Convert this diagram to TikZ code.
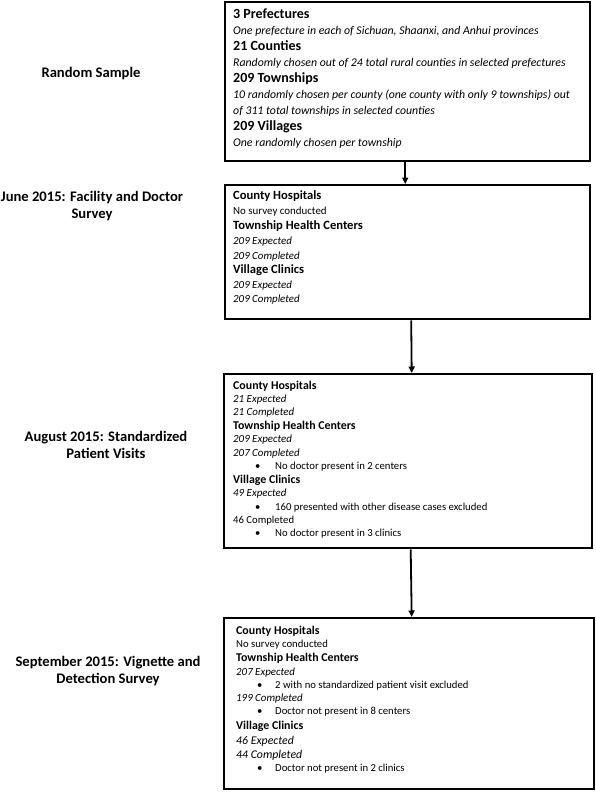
\documentclass[tikz,border=0pt]{standalone}
\usepackage{fontspec}
\setmainfont{Carlito}
\usetikzlibrary{arrows.meta}
\begin{document}
\begin{tikzpicture}[x=1pt,y=-1pt,
  box/.style={draw=black, line width=2.4pt, rectangle, inner sep=0pt, anchor=north west},
  arr/.style={line width=1.8pt, -{Triangle[length=6.5pt,width=6pt]}},
  txt/.style={anchor=west, inner sep=0pt, text height=0.72em, text depth=0.22em},
  hdA/.style={txt, font=\fontsize{14}{16}\selectfont\bfseries},
  itA/.style={txt, font=\fontsize{11.8}{14}\selectfont\itshape},
  hdB/.style={txt, font=\fontsize{12.6}{14}\selectfont\bfseries},
  itB/.style={txt, font=\fontsize{10.9}{12}\selectfont\itshape},
  rgB/.style={txt, font=\fontsize{10.9}{12}\selectfont},
  hd/.style={txt, font=\fontsize{11.9}{14}\selectfont\bfseries},
  it/.style={txt, font=\fontsize{10.9}{12}\selectfont\itshape},
  itL/.style={txt, font=\fontsize{11.8}{13}\selectfont\itshape},
  rg/.style={txt, font=\fontsize{10.7}{12}\selectfont},
  lab/.style={align=center, inner sep=0pt, font=\fontsize{14.6}{17}\selectfont\bfseries}
]
\fill[white] (0,0) rectangle (595,800);
\useasboundingbox (0,0) rectangle (595,800);

% boxes
\node[box, minimum width=365pt, minimum height=159pt] (b1) at (224,1) {};
\node[box, minimum width=365pt, minimum height=134pt] (b2) at (224,184) {};
\node[box, minimum width=368pt, minimum height=174pt] (b3) at (223,373) {};
\node[box, minimum width=370pt, minimum height=171pt] (b4) at (223,617) {};

% arrows
\draw[arr] ([xshift=-2.5pt]b1.south) -- ([xshift=-2.5pt]b2.north);
\draw[arr] ([xshift=3.5pt]b2.south) -- ([xshift=3.5pt]b3.north);
\draw[arr] ([xshift=2.5pt]b3.south) -- ([xshift=2.5pt]b4.north);

% left labels
\node[lab] (L1) at (91,74) {Random Sample};
\node[lab] (L2) at (92,206) {June 2015: Facility and Doctor\\Survey};
\node[lab] (L3) at (106,445) {August 2015: Standardized\\Patient Visits};
\node[lab] (L4) at (108,671) {September 2015: Vignette and\\Detection Survey};

% box 1
\node[hdA] (t11) at (233,16) {3 Prefectures};
\node[itA] (t12) at (233,32) {One prefecture in each of Sichuan, Shaanxi, and Anhui provinces};
\node[hdA] (t13) at (233,48) {21 Counties};
\node[itA] (t14) at (233,64) {Randomly chosen out of 24 total rural counties in selected prefectures};
\node[hdA] (t15) at (233,80) {209 Townships};
\node[itA] (t16) at (233,96) {10 randomly chosen per county (one county with only 9 townships) out};
\node[itA] (t17) at (233,112) {of 311 total townships in selected counties};
\node[hdA] (t18) at (233,128) {209 Villages};
\node[itA] (t19) at (233,144) {One randomly chosen per township};

% box 2
\node[hdB] (t21) at (233,197) {County Hospitals};
\node[rgB] (t22) at (233,212) {No survey conducted};
\node[hdB] (t23) at (233,227) {Township Health Centers};
\node[itB] (t24) at (233,242) {209 Expected};
\node[itB] (t25) at (233,257) {209 Completed};
\node[hdB] (t26) at (233,271) {Village Clinics};
\node[itB] (t27) at (233,286) {209 Expected};
\node[itB] (t28) at (233,300) {209 Completed};

% box 3
\node[hd] (t31) at (233,387) {County Hospitals};
\node[it] (t32) at (233,400) {21 Expected};
\node[it] (t33) at (233,413) {21 Completed};
\node[hd] (t34) at (233,427) {Township Health Centers};
\node[it] (t35) at (233,440) {209 Expected};
\node[it] (t36) at (233,454) {207 Completed};
\node[rg] (t37b) at (255,467) {\textbullet};
\node[rg] (t37) at (275,467) {No doctor present in 2 centers};
\node[hd] (t38) at (233,481) {Village Clinics};
\node[it] (t39) at (233,494) {49 Expected};
\node[rg] (t3ab) at (255,508) {\textbullet};
\node[rg] (t3a) at (275,508) {160 presented with other disease cases excluded};
\node[rg] (t3b) at (233,521) {46 Completed};
\node[rg] (t3cb) at (255,534) {\textbullet};
\node[rg] (t3c) at (275,534) {No doctor present in 3 clinics};

% box 4
\node[hd] (t41) at (236,632) {County Hospitals};
\node[rg] (t42) at (236,645) {No survey conducted};
\node[hd] (t43) at (236,659) {Township Health Centers};
\node[it] (t44) at (236,673) {207 Expected};
\node[rg] (t45b) at (257,686) {\textbullet};
\node[rg] (t45) at (275,686) {2 with no standardized patient visit excluded};
\node[it] (t46) at (236,699) {199 Completed};
\node[rg] (t47b) at (257,712) {\textbullet};
\node[rg] (t47) at (275,712) {Doctor not present in 8 centers};
\node[hd] (t48) at (236,727) {Village Clinics};
\node[itL] (t49) at (236,742) {46 Expected};
\node[itL] (t4a) at (236,756) {44 Completed};
\node[rg] (t4bb) at (257,769) {\textbullet};
\node[rg] (t4b) at (275,769) {Doctor not present in 2 clinics};
\end{tikzpicture}
\end{document}
